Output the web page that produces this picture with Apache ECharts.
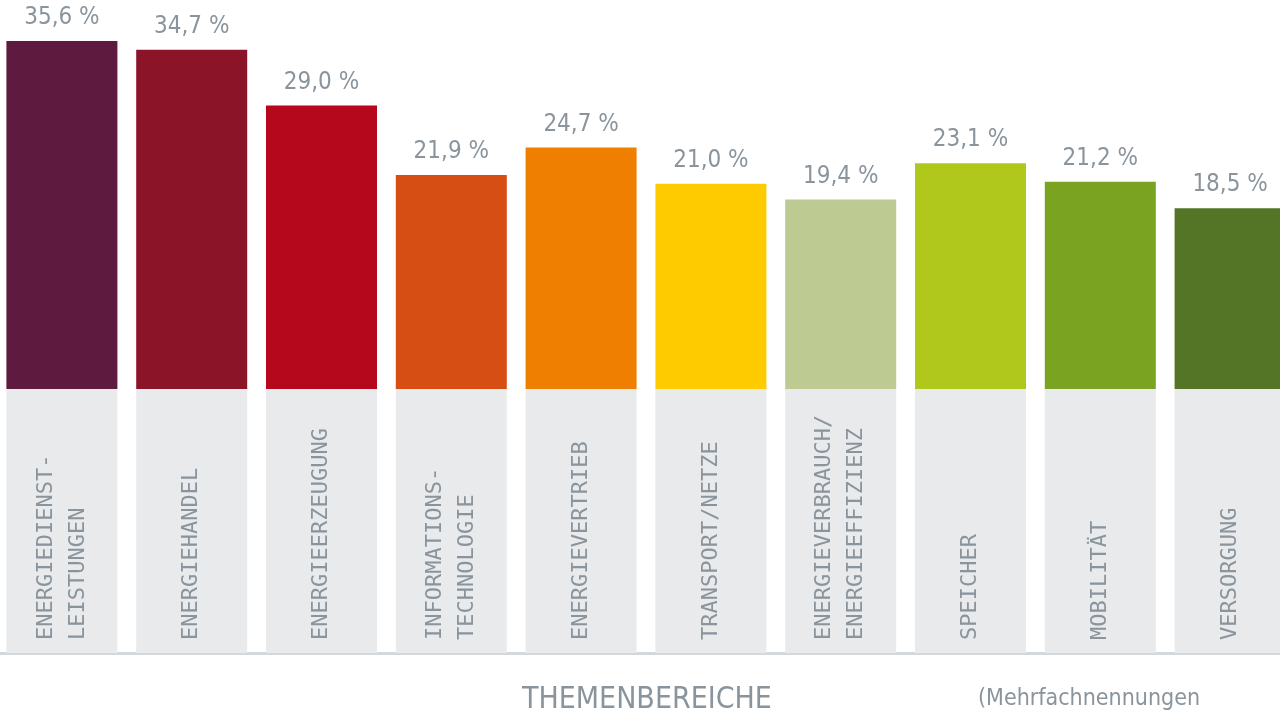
<!DOCTYPE html>
<html>
<head>
<meta charset="utf-8">
<script src="https://cdn.jsdelivr.net/npm/echarts@6/dist/echarts.min.js"></script>
<style>
  html, body { margin: 0; padding: 0; background: #fff; overflow: hidden; }
  /* etwas breiter als das Fenster: der letzte Balken läuft rechts über den Rand */
  #chart { position: absolute; left: -3px; top: 0; width: 1305px; height: 714px; }
</style>
</head>
<body>
<div id="chart"></div>
<script>
// Themenbereiche — Anteile in %, Balken oben, graue Beschriftungsfelder unten
const categories = [
  'ENERGIEDIENST-\nLEISTUNGEN', 'ENERGIEHANDEL', 'ENERGIEERZEUGUNG',
  'INFORMATIONS-\nTECHNOLOGIE', 'ENERGIEVERTRIEB', 'TRANSPORT/NETZE',
  'ENERGIEVERBRAUCH/\nENERGIEEFFIZIENZ', 'SPEICHER', 'MOBILITÄT', 'VERSORGUNG',
]
const values = [35.6, 34.7, 29.0, 21.9, 24.7, 21.0, 19.4, 23.1, 21.2, 18.5]
const barColors = [
  '#5f1a40', '#8b1428', '#b5081c', '#d64e14', '#ef7f00',
  '#fecb00', '#bdca92', '#b0c81c', '#7aa322', '#557526',
]
const labelBoxes = categories.map(() => 1) // graue Felder, volle Höhe

const GRAY = '#8a949c'
const NARROW = '"Liberation Sans Narrow", "DejaVu Sans Condensed", sans-serif'

const chart = echarts.init(document.getElementById('chart'))
chart.setOption({
  backgroundColor: '#fff',
  animation: false,
  grid: [
    { left: 0, width: 1298, top: 0, height: 389 },
    { left: 0, width: 1298, top: 389, height: 264 },
  ],
  xAxis: [
    { type: 'category', gridIndex: 0, data: categories, show: false },
    {
      type: 'category', gridIndex: 1, data: categories,
      axisLine: { show: true, lineStyle: { color: '#d3d8dc', width: 3 } },
      axisTick: { show: false }, axisLabel: { show: false },
    },
  ],
  yAxis: [
    { type: 'value', gridIndex: 0, min: 0, max: 39.8, show: false },
    { type: 'value', gridIndex: 1, min: 0, max: 1, show: false },
  ],
  series: [
    {
      type: 'bar', xAxisIndex: 0, yAxisIndex: 0, barWidth: 111,
      data: values.map((v, i) => ({ value: v, itemStyle: { color: barColors[i] } })),
      label: {
        show: true, position: 'top', distance: 11,
        color: GRAY, fontFamily: NARROW, fontSize: 24,
        formatter: p => p.value.toFixed(1).replace('.', ',') + ' %',
      },
    },
    {
      type: 'bar', xAxisIndex: 1, yAxisIndex: 1, barWidth: 111,
      data: labelBoxes,
      itemStyle: { color: '#e9eaec' },
      label: {
        show: true, position: 'insideBottom', distance: 13, rotate: 90,
        align: 'left', verticalAlign: 'middle',
        color: GRAY, fontFamily: '"DejaVu Sans Mono", monospace', fontSize: 22,
        lineHeight: 32,
        formatter: p => categories[p.dataIndex],
      },
    },
  ],
  graphic: [
    {
      type: 'text', left: 525, top: 685,
      style: { text: 'THEMENBEREICHE', fill: GRAY, font: '30px ' + NARROW },
    },
    {
      type: 'text', left: 981, top: 688,
      style: { text: '(Mehrfachnennungen', fill: GRAY, font: '23px ' + NARROW },
    },
  ],
})
</script>
</body>
</html>
